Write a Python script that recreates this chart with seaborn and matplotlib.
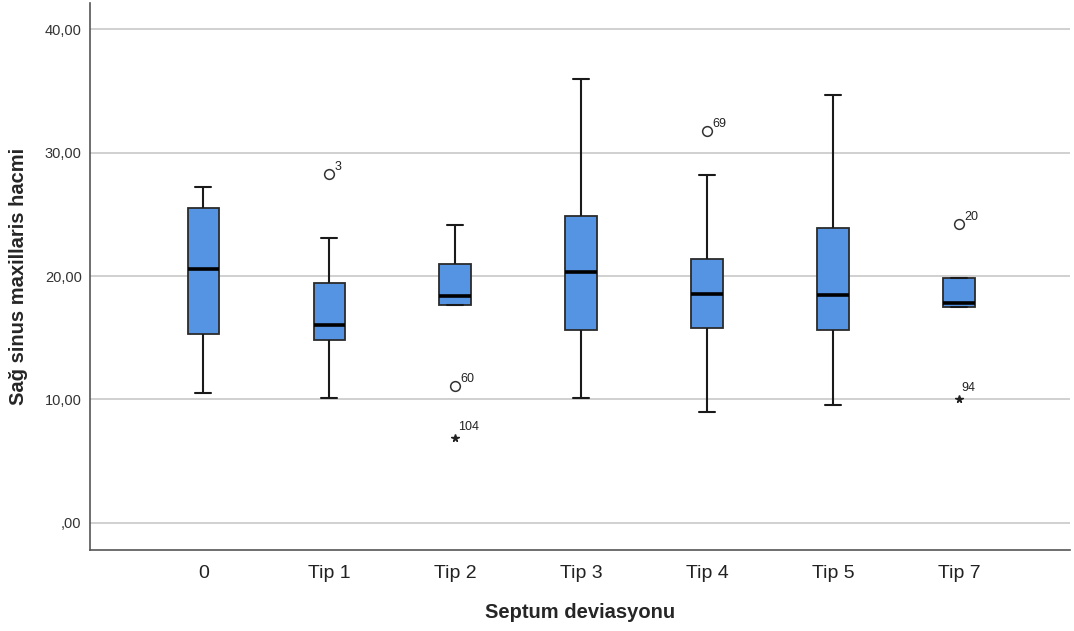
import matplotlib
matplotlib.use("Agg")
import matplotlib.pyplot as plt
import seaborn as sns
import pandas as pd

sns.set_style("white")
plt.rcParams['font.family'] = ['Liberation Sans', 'DejaVu Sans']

categories = ["0", "Tip 1", "Tip 2", "Tip 3", "Tip 4", "Tip 5", "Tip 7"]
# five-number summaries: lower whisker, Q1, median, Q3, upper whisker
whisker_low = [10.53, 10.12, 17.65, 10.12, 8.99, 9.55, 17.49]
q1 = [15.30, 14.82, 17.65, 15.63, 15.79, 15.63, 17.49]
median = [20.57, 16.03, 18.38, 20.32, 18.54, 18.46, 17.81]
q3 = [25.50, 19.43, 20.97, 24.86, 21.38, 23.89, 19.84]
whisker_high = [27.20, 23.08, 24.13, 35.95, 28.18, 34.66, 19.84]

# outliers (circle) and extremes (star)
outlier_cat = ["Tip 1", "Tip 2", "Tip 4", "Tip 7"]
outlier_val = [28.26, 11.09, 31.74, 24.21]
outlier_lab = ["3", "60", "69", "20"]
extreme_cat = ["Tip 2", "Tip 7"]
extreme_val = [6.88, 10.04]
extreme_lab = ["104", "94"]

rows = []
for i, c in enumerate(categories):
    for v in (whisker_low[i], q1[i], median[i], q3[i], whisker_high[i]):
        rows.append({"grp": c, "val": v})
df = pd.DataFrame(rows)

fig = plt.figure(figsize=(10.74, 6.31), dpi=100)
ax = fig.add_axes([0.0838, 0.1284, 0.9122, 0.8666])

sns.boxplot(data=df, x="grp", y="val", order=categories, whis=(0, 100),
            width=0.25, color="#5594e3", saturation=1, fliersize=0, ax=ax,
            boxprops=dict(edgecolor="#2b2b2b", linewidth=1.3),
            whiskerprops=dict(color="#1a1a1a", linewidth=1.5),
            capprops=dict(color="#1a1a1a", linewidth=1.5),
            medianprops=dict(color="black", linewidth=2.6))

for c, v, lab in zip(outlier_cat, outlier_val, outlier_lab):
    x = categories.index(c)
    ax.plot(x, v, marker="o", markersize=7, markerfacecolor="white",
            markeredgecolor="#333333", markeredgewidth=1.1, linestyle="none", zorder=5)
    ax.annotate(lab, (x, v), xytext=(4, 3), textcoords="offset points",
                fontsize=9, color="#222222")

for c, v, lab in zip(extreme_cat, extreme_val, extreme_lab):
    x = categories.index(c)
    ax.plot(x, v, marker="*", markersize=5.5, color="#222222", linestyle="none", zorder=5)
    ax.annotate(lab, (x, v), xytext=(2, 6), textcoords="offset points",
                fontsize=9, color="#222222")

ax.set_ylim(-2.19, 42.1)
ax.set_xlim(-0.9, 6.88)
ax.set_yticks([0, 10, 20, 30, 40])
ax.set_yticklabels([",00", "10,00", "20,00", "30,00", "40,00"], fontsize=10.5, color="#333333")
ax.tick_params(axis="x", labelsize=14, colors="#222222", length=0, pad=11)
ax.tick_params(axis="y", length=0, pad=6)
ax.yaxis.grid(True, color="#c8c8c8", linewidth=1.2)
ax.set_axisbelow(True)
for s in ("top", "right"):
    ax.spines[s].set_visible(False)
for s in ("left", "bottom"):
    ax.spines[s].set_color("#555555")
    ax.spines[s].set_linewidth(1.2)

ax.set_xlabel("Septum deviasyonu", fontsize=14.5, fontweight="bold", labelpad=15)
ax.set_ylabel("Sağ sinus maxillaris hacmi", fontsize=14.5, fontweight="bold", labelpad=12)

fig.savefig("out.png", dpi=100)
